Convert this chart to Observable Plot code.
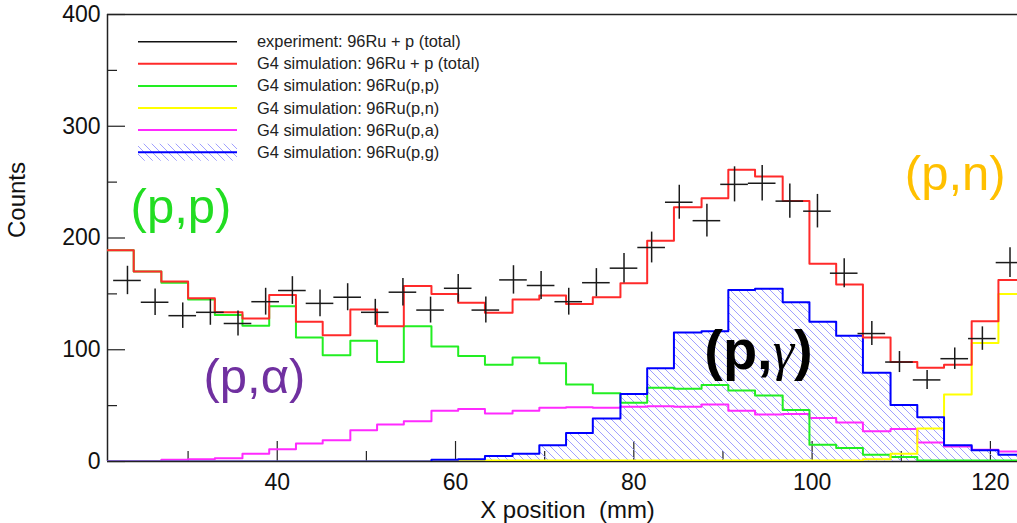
<!DOCTYPE html>
<html>
<head>
<meta charset="utf-8">
<script src="https://cdn.jsdelivr.net/npm/d3@7"></script>
<script src="https://cdn.jsdelivr.net/npm/@observablehq/plot@0.6"></script>
<style>
html, body { margin: 0; padding: 0; background: #fff; }
#chart { width: 1017px; height: 523px; overflow: hidden; }
svg { display: block; }
</style>
</head>
<body>
<div id="chart"></div>
<script>
// ---- Data ----
// simulated histogram bin edges (mm), 34 bins
const simEdges = [20.9, 23.9, 27.0, 30.0, 33.0, 36.1, 39.1, 42.1, 45.1, 48.2, 51.2, 54.2, 57.3, 60.3, 63.3, 66.4, 69.4,
  72.4, 75.4, 78.5, 81.5, 84.5, 87.6, 90.6, 93.6, 96.7, 99.7, 102.7, 105.7, 108.8, 111.8, 114.8, 117.9, 120.9, 124.0];
// G4 simulation: 96Ru + p (total)
const simTotal = [189, 170, 161, 146, 133.5, 128, 149, 125, 113, 136, 121, 157, 150, 142, 133, 145, 148.5, 141, 147,
  159.5, 197.5, 227.5, 235.5, 261, 255, 233, 177, 158.5, 111, 89, 84, 86.5, 125.5, 162.5];
// G4 simulation: 96Ru(p,p)
const simPP = [189, 170, 160, 145, 131, 121.5, 139, 111, 95, 108, 89, 121, 103, 94.5, 86.5, 93, 88, 69, 61,
  52.5, 66, 65, 68.5, 63.5, 59, 46, 15, 12, 6, 4, 1, 1, 1, 1];
// G4 simulation: 96Ru(p,n)
const simPN = [0, 0, 0, 0, 0, 0, 0, 0, 0, 0, 0, 0, 1, 1, 1, 1, 1, 1, 1,
  1, 1, 1, 1, 1, 1, 1, 1, 1, 2, 7, 29.5, 60, 106, 150];
// G4 simulation: 96Ru(p,a)
const simPA = [0, 0, 1.5, 2, 3, 7, 11, 16, 19, 28, 33, 36, 45.5, 47, 43, 45.5, 48, 48.5, 48,
  49, 49.5, 49, 51, 45.5, 42, 42.5, 39, 35, 27, 29, 17, 13.5, 10.5, 9];
// G4 simulation: 96Ru(p,g)
const simPG = [0, 0, 0, 0, 0, 0, 0, 0, 0, 0, 0, 0, 1.5, 2, 5, 7, 14.5, 25.5, 38.5,
  60.5, 83.5, 115.5, 116.5, 153.5, 154.5, 142.5, 125, 112.5, 79.5, 50.5, 39.5, 14.5, 10, 6];

// experiment: 96Ru + p (total)
const expX = [23.2, 26.3, 29.4, 32.5, 35.6, 38.7, 41.7, 44.8, 47.9, 51.0, 54.1, 57.2, 60.3, 63.4, 66.5, 69.6, 72.7,
  75.8, 78.9, 82.0, 85.1, 88.2, 91.3, 94.4, 97.5, 100.6, 103.6, 106.7, 109.8, 112.9, 116.0, 119.1, 122.2];
const expCounts = [162, 142.5, 130.5, 133.5, 123.5, 143, 153, 141.5, 147, 133.5, 151.5, 135.5, 155, 135.5, 162.5,
  157.5, 143, 160, 173, 191.5, 232, 215.5, 248, 249, 233, 224, 168.5, 114.5, 89, 73, 92, 110, 178];
const expErr = [12.7, 11.9, 11.4, 11.6, 11.1, 12.0, 12.4, 11.9, 12.1, 11.6, 12.3, 11.6, 12.4, 11.6, 12.7, 12.5,
  12.0, 12.6, 13.2, 13.8, 15.2, 14.7, 15.7, 15.8, 15.3, 15.0, 13.0, 10.7, 9.4, 8.5, 9.6, 10.5, 13.3];
const expHalfWidth = 1.55;

// axes
const xDomain = [20.96, 123.04];
const yDomain = [0, 400];
const xTicksMajor = [40, 60, 80, 100, 120];
const xTicksMinor = [30, 50, 70, 90, 110];
const yTicksMajor = [0, 100, 200, 300, 400];
const yTicksMinor = [50, 150, 250, 350];
const xTitle = "X position\u00a0 (mm)";
const yTitle = "Counts";

// annotations
const annotations = [
  {label: "(p,p)", x: 23.55, y: 245, color: "#22dd22"},
  {label: "(p,\u03b1)", x: 31.73, y: 92, color: "#7030a0"},
  {label: "(p,n)", x: 110.4, y: 274, color: "#ffc000"}
];
const gammaNote = [{label: "(p,\u03b3)", x: 87.9, y: 118, color: "#000000"}];

// legend
const legendItems = [
  {label: "experiment: 96Ru + p (total)", color: "#111111", width: 1.5},
  {label: "G4 simulation: 96Ru + p (total)", color: "#ff2a2a", width: 2},
  {label: "G4 simulation: 96Ru(p,p)", color: "#22ee22", width: 2},
  {label: "G4 simulation: 96Ru(p,n)", color: "#ffff00", width: 2},
  {label: "G4 simulation: 96Ru(p,a)", color: "#ff2aff", width: 2},
  {label: "G4 simulation: 96Ru(p,g)", color: "#0000ff", width: 2, hatch: true}
];

// ---- helpers ----
function steps(values) {
  const pts = values.map((v, i) => ({x: simEdges[i], y: v}));
  pts.push({x: simEdges[values.length], y: values[values.length - 1]});
  return pts;
}
const expData = expX.map((x, i) => ({x, y: expCounts[i], e: expErr[i]}));

const W = 1017, H = 523, mL = 107, mR = 0, mT = 14, mB = 62;
const plotW = W - mL - mR, plotH = H - mT - mB;
const FONT = "Liberation Sans, Arial, Helvetica, sans-serif";

const stepLine = (vals, stroke, sw) =>
  Plot.line(steps(vals), {x: "x", y: "y", curve: "step-after", stroke, strokeWidth: sw, clip: true});

const plot = Plot.plot({
  width: W, height: H,
  marginLeft: mL, marginRight: mR, marginTop: mT, marginBottom: mB,
  x: {domain: xDomain, axis: null},
  y: {domain: yDomain, axis: null},
  style: {fontFamily: FONT, background: "#fff", color: "#111"},
  marks: [
    // frame (left, top, bottom)
    Plot.ruleX([xDomain[0]], {stroke: "#222", strokeWidth: 1.5}),
    Plot.ruleY([yDomain[1]], {stroke: "#222", strokeWidth: 1.5}),
    Plot.ruleY([yDomain[0]], {stroke: "#222", strokeWidth: 1.5}),
    // ticks
    Plot.tickX(xTicksMajor, {x: d => d, insetTop: plotH - 20, stroke: "#222", strokeWidth: 1.2}),
    Plot.tickX(xTicksMinor, {x: d => d, insetTop: plotH - 10, stroke: "#222", strokeWidth: 1.2}),
    Plot.tickY(yTicksMajor, {y: d => d, insetRight: plotW - 18, stroke: "#222", strokeWidth: 1.2}),
    Plot.tickY(yTicksMinor, {y: d => d, insetRight: plotW - 10, stroke: "#222", strokeWidth: 1.2}),
    // histograms
    Plot.areaY(steps(simPG), {x: "x", y: "y", curve: "step-after", fill: "url(#hatchPG)", clip: true}),
    stepLine(simPA, "#ff2aff", 2),
    stepLine(simPP, "#22ee22", 2),
    stepLine(simPN, "#ffff00", 2),
    stepLine(simPG, "#0000ff", 2),
    stepLine(simTotal, "#ff2a2a", 2),
    // experiment crosses
    Plot.ruleY(expData, {y: "y", x1: d => d.x - expHalfWidth, x2: d => d.x + expHalfWidth, stroke: "#1a1a1a", strokeWidth: 1.5, clip: true}),
    Plot.ruleX(expData, {x: "x", y1: d => d.y - d.e, y2: d => d.y + d.e, stroke: "#1a1a1a", strokeWidth: 1.5, clip: true}),
    // tick labels
    Plot.text(xTicksMajor, {x: d => d, text: d => String(d), frameAnchor: "bottom", lineAnchor: "top", dy: 12, fontSize: 23, fill: "#111"}),
    Plot.text(yTicksMajor, {y: d => d, text: d => String(d), frameAnchor: "left", textAnchor: "end", dx: -7, fontSize: 23, fill: "#111"}),
    // axis titles
    Plot.text([xTitle], {text: d => d, frameAnchor: "bottom", lineAnchor: "top", dy: 39, dx: 5, fontSize: 24, fill: "#111"}),
    Plot.text([yTitle], {text: d => d, frameAnchor: "left", rotate: -90, dx: -90, fontSize: 24, fill: "#111"}),
    // annotations
    Plot.text(annotations, {x: "x", y: "y", text: "label", fill: "color", fontSize: 49,
      textAnchor: "start", lineAnchor: "top"}),
    Plot.text(gammaNote, {x: "x", y: "y", text: "label", fill: "color", fontSize: 56, fontWeight: "bold",
      textAnchor: "start", lineAnchor: "top", className: "gamma-note"})
  ]
});

document.getElementById("chart").appendChild(plot);

const svg = d3.select(plot);

// render the gamma in a symbol-like italic face
svg.selectAll(".gamma-note text").each(function() {
  const t = d3.select(this);
  const s = t.text();
  const idx = s.indexOf("\u03b3");
  if (idx < 0) return;
  t.text(null);
  t.append("tspan").text(s.slice(0, idx));
  t.append("tspan").text("\u03b3").attr("font-family", "Liberation Serif, DejaVu Serif, serif")
    .attr("font-style", "italic").attr("font-weight", "normal").attr("font-size", 54);
  t.append("tspan").text(s.slice(idx + 1));
});

// hatch pattern
const defs = svg.insert("defs", ":first-child");
const pat = defs.append("pattern").attr("id", "hatchPG").attr("patternUnits", "userSpaceOnUse")
  .attr("width", 8).attr("height", 8);
pat.append("path").attr("d", "M0,0L8,8M-1,7L1,9M7,-1L9,1")
  .attr("stroke", "#9595ff").attr("stroke-width", 0.9).attr("fill", "none");

// legend
const lg = svg.append("g").attr("font-family", FONT).attr("font-size", 16.4).attr("fill", "#222")
  .attr("text-anchor", "start");
legendItems.forEach((it, i) => {
  const y = 41.7 + 22.1 * i;
  if (it.hatch) {
    lg.append("rect").attr("x", 138).attr("y", y - 8.5).attr("width", 99).attr("height", 17)
      .attr("fill", "url(#hatchPG)");
  }
  lg.append("line").attr("x1", 138).attr("x2", 237).attr("y1", y).attr("y2", y)
    .attr("stroke", it.color).attr("stroke-width", it.width);
  lg.append("text").attr("x", 257).attr("y", y + 5.5).attr("text-anchor", "start").text(it.label);
});
</script>
</body>
</html>
